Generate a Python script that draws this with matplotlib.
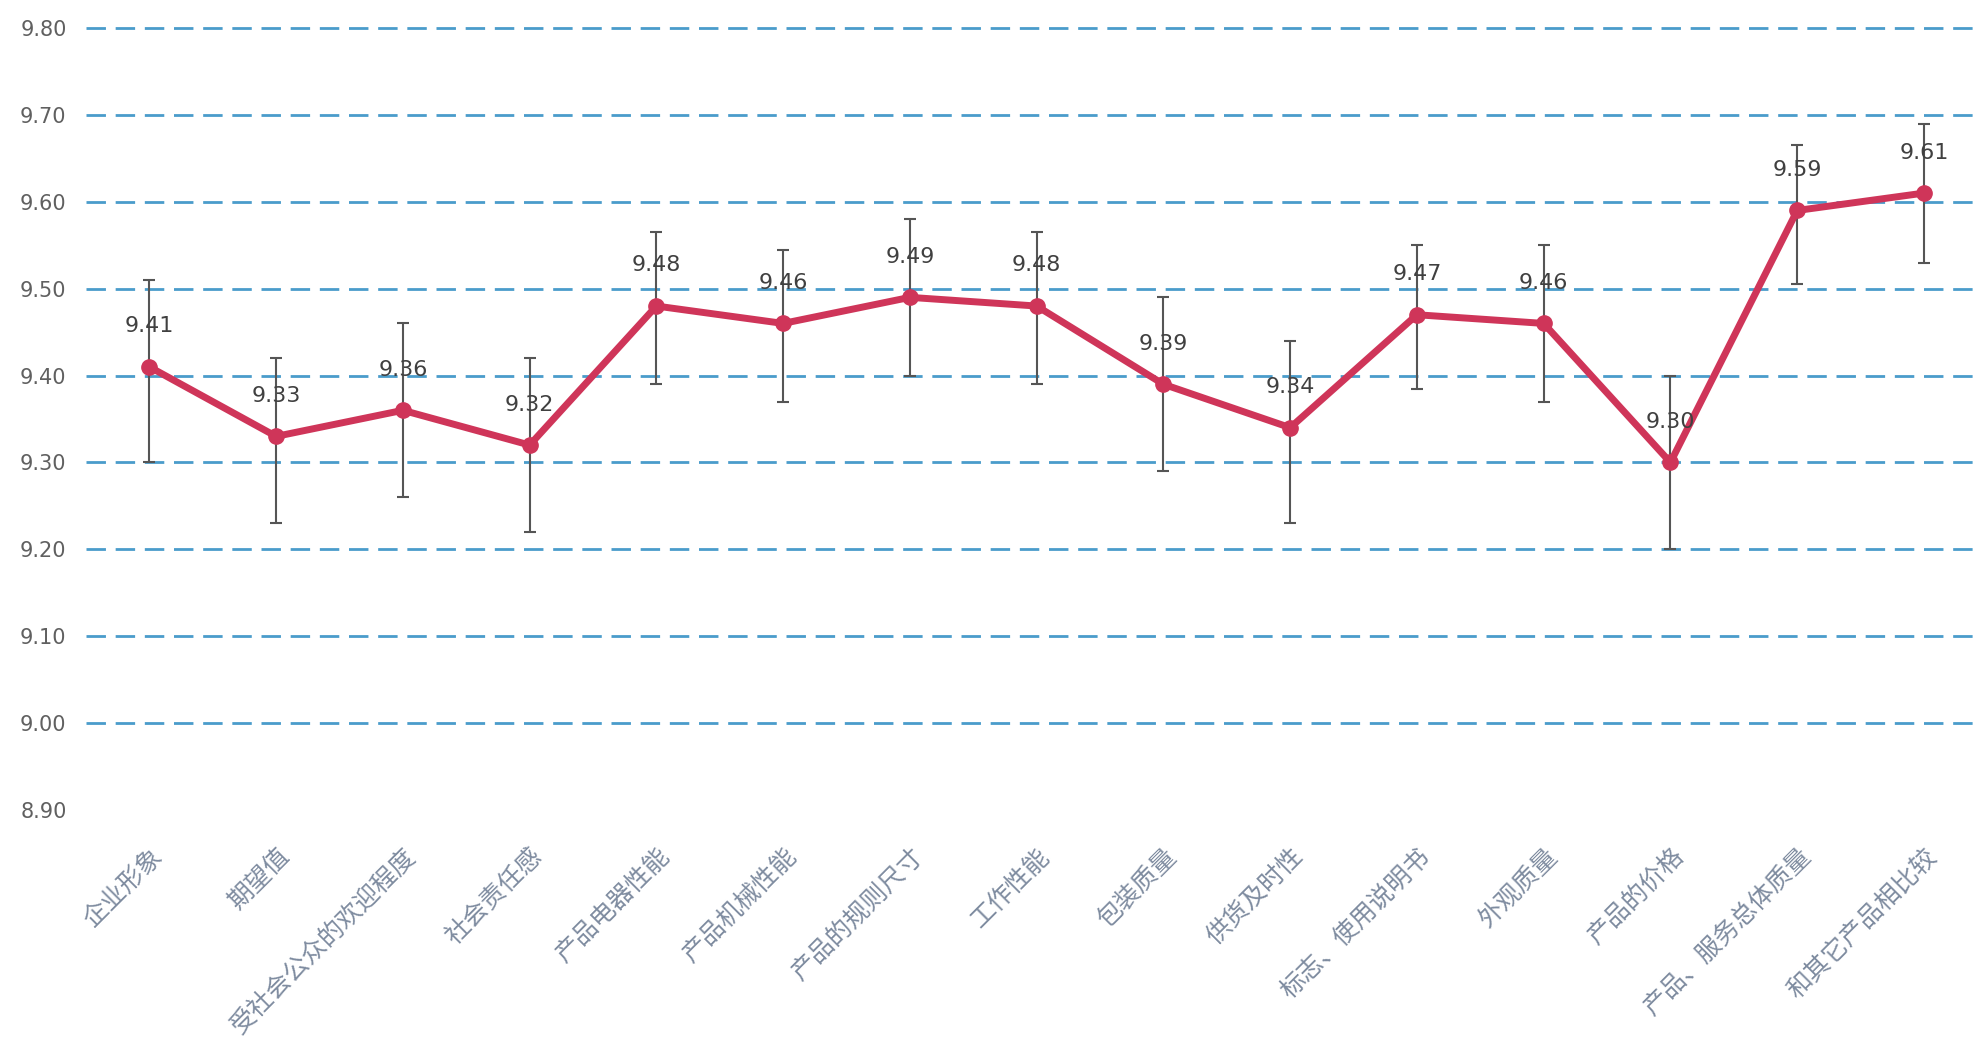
import matplotlib
matplotlib.use("Agg")
import matplotlib.pyplot as plt
import numpy as np

categories = ["企业形象", "期望值", "受社会公众的欢迎程度", "社会责任感", "产品电器性能",
              "产品机械性能", "产品的规则尺寸", "工作性能", "包装质量", "供货及时性",
              "标志、使用说明书", "外观质量", "产品的价格", "产品、服务总体质量", "和其它产品相比较"]
values = [9.41, 9.33, 9.36, 9.32, 9.48, 9.46, 9.49, 9.48, 9.39, 9.34, 9.47, 9.46, 9.30, 9.59, 9.61]
err_low = [0.11, 0.10, 0.10, 0.10, 0.09, 0.09, 0.09, 0.09, 0.10, 0.11, 0.085, 0.09, 0.10, 0.085, 0.08]
err_high = [0.10, 0.09, 0.10, 0.10, 0.085, 0.085, 0.09, 0.085, 0.10, 0.10, 0.08, 0.09, 0.10, 0.075, 0.08]
yticks = [8.90, 9.00, 9.10, 9.20, 9.30, 9.40, 9.50, 9.60, 9.70, 9.80]

plt.rcParams['font.family'] = ['Noto Sans CJK SC', 'DejaVu Sans']

fig = plt.figure(figsize=(19.81, 10.46), dpi=100)
ax = fig.add_axes([86/1981, 1 - 810/1046, 1 - 86/1981, (810 - 28)/1046])

x = np.arange(len(categories))
ax.set_xlim(-0.5, 14.45)
ax.set_ylim(8.90, 9.80)

for t in yticks[1:]:
    ax.axhline(t, color='#4a9ccb', lw=2.0, linestyle=(0, (7, 3.5)), zorder=1, clip_on=False)

ax.errorbar(x, values, yerr=[err_low, err_high], fmt='none', ecolor='#555555',
            elinewidth=1.5, capsize=4, capthick=1.5, zorder=2)
ax.plot(x, values, color='#cf3559', lw=5, marker='o', markersize=11,
        markerfacecolor='#cf3559', markeredgecolor='#cf3559', zorder=3)

for xi, v in zip(x, values):
    ax.annotate(f"{v:.2f}", (xi, v), xytext=(0, 22), textcoords='offset points',
                ha='center', va='bottom', fontsize=16, color='#404040',
                family=['DejaVu Sans'], zorder=4)

ax.set_yticks(yticks)
ax.set_yticklabels([f"{t:.2f}" for t in yticks], fontsize=15, color='#606060', family=['DejaVu Sans'])
ax.set_xticks(x)
ax.set_xticklabels(categories, rotation=45, ha='right', va='top', rotation_mode='anchor',
                   fontsize=18, color='#7f8ca0')
ax.tick_params(axis='y', length=0, pad=14)
ax.tick_params(axis='x', length=0, pad=24)
for s in ax.spines.values():
    s.set_visible(False)

fig.savefig("out.png", dpi=100)
